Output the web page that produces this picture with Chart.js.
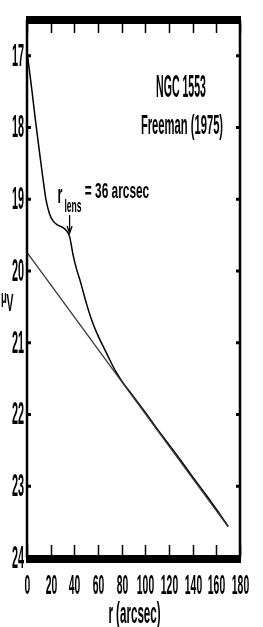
<!DOCTYPE html>
<html>
<head>
<meta charset="utf-8">
<script src="https://cdn.jsdelivr.net/npm/chart.js"></script>
<style>
  html, body { margin: 0; padding: 0; background: #fff; }
  #wrap { width: 263px; height: 627px; }
</style>
</head>
<body>
<div id="wrap"><canvas id="profile"></canvas></div>
<script>
// surface brightness profile of NGC 1553 (Freeman 1975)
const profR  = [0.5, 4, 7, 10, 13, 16, 19, 22, 26, 30, 33, 36, 39, 42, 45, 50, 55, 60, 65, 70, 75, 80, 90, 100, 110, 120, 130, 140, 150, 160, 170];
const profMu = [17.0, 17.46, 17.88, 18.27, 18.65, 19.0, 19.2, 19.3, 19.36, 19.39, 19.43, 19.52, 19.78, 19.98, 20.14, 20.44, 20.7, 20.9, 21.07, 21.24, 21.4, 21.53, 21.75, 21.97, 22.2, 22.42, 22.64, 22.87, 23.09, 23.32, 23.56];

// exponential disk fit
const diskR  = [0, 170];
const diskMu = [19.74, 23.565];

const xTicks = [0, 20, 40, 60, 80, 100, 120, 140, 160, 180];
const yTicks = [17, 18, 19, 20, 21, 22, 23, 24];

const FONT = "'Liberation Sans', Arial, sans-serif";

// narrow text helper (the original lettering is very condensed)
function txt(ctx, s, x, y, size, sx, align, base) {
    ctx.save();
    ctx.font = 'bold ' + size + 'px ' + FONT;
    ctx.textAlign = align || 'center';
    ctx.textBaseline = base || 'middle';
    ctx.translate(x, y);
    ctx.scale(sx, 1);
    ctx.fillText(s, 0, 0);
    ctx.restore();
}

const framePlugin = {
    id: 'frame',
    afterDraw(chart) {
        const ctx = chart.ctx;
        const a = chart.chartArea;
        const xs = chart.scales.x, ys = chart.scales.y;
        ctx.save();
        ctx.fillStyle = '#000';
        ctx.strokeStyle = '#000';

        // thick top/bottom bars, thin sides
        ctx.fillRect(a.left - 1, a.top - 4, a.right - a.left + 2, 8);
        ctx.fillRect(a.left - 1, a.bottom - 3, a.right - a.left + 2, 8);
        ctx.lineWidth = 2.5;
        ctx.beginPath();
        ctx.moveTo(a.left, a.top); ctx.lineTo(a.left, a.bottom);
        ctx.moveTo(a.right, a.top); ctx.lineTo(a.right, a.bottom);
        ctx.stroke();

        // x ticks (inward, top and bottom)
        ctx.lineWidth = 1.5;
        xTicks.forEach(v => {
            const px = Math.round(xs.getPixelForValue(v)) + 0.5;
            ctx.beginPath();
            ctx.moveTo(px, a.bottom - 3); ctx.lineTo(px, a.bottom - 13);
            ctx.moveTo(px, a.top + 4); ctx.lineTo(px, a.top + 13);
            ctx.stroke();
            txt(ctx, String(v), px, a.bottom + 28, 28, 0.37);
        });

        // y ticks (inward, left and right)
        ctx.lineWidth = 3;
        yTicks.forEach(v => {
            const py = ys.getPixelForValue(v);
            if (v < 24) {
                ctx.beginPath();
                ctx.moveTo(a.left, py); ctx.lineTo(a.left + 4, py);
                ctx.moveTo(a.right - 4, py); ctx.lineTo(a.right, py);
                ctx.stroke();
            }
            txt(ctx, String(v), a.left - 3, py + 1, 32, 0.34, 'right');
        });

        // axis titles
        txt(ctx, 'r (arcsec)', (a.left + a.right) / 2 + 1, a.bottom + 57, 29, 0.4);
        txt(ctx, '\u03bc', 4, 298, 19, 0.5);
        txt(ctx, 'V', 10, 305, 23, 0.45);

        // labels in the upper right
        txt(ctx, 'NGC 1553', 181, 88, 32, 0.33);
        txt(ctx, 'Freeman (1975)', 182, 126, 28, 0.4);

        // r_lens annotation with arrow at r = 36
        const ax = xs.getPixelForValue(36);
        txt(ctx, 'r', 60, 203, 25, 0.5, 'center', 'alphabetic');
        txt(ctx, 'lens', 73, 212, 19, 0.45, 'center', 'alphabetic');
        txt(ctx, '= 36 arcsec', 117, 198, 22, 0.54, 'center', 'alphabetic');
        ctx.lineWidth = 1.3;
        const tipY = ys.getPixelForValue(19.47);
        ctx.beginPath();
        ctx.moveTo(ax, 215); ctx.lineTo(ax, tipY);
        ctx.stroke();
        ctx.beginPath();
        ctx.moveTo(ax - 2.5, tipY - 7); ctx.lineTo(ax, tipY); ctx.lineTo(ax + 2.5, tipY - 7);
        ctx.stroke();
        ctx.restore();
    }
};

new Chart(document.getElementById('profile'), {
    type: 'scatter',
    data: {
        datasets: [
            {
                label: 'disk',
                data: diskR.map((r, i) => ({ x: r, y: diskMu[i] })),
                showLine: true,
                borderColor: '#3a3a3a',
                borderWidth: 1.3,
                pointRadius: 0
            },
            {
                label: 'NGC 1553',
                data: profR.map((r, i) => ({ x: r, y: profMu[i] })),
                showLine: true,
                borderColor: '#000',
                borderWidth: 1.5,
                pointRadius: 0,
                cubicInterpolationMode: 'monotone'
            }
        ]
    },
    options: {
        responsive: true,
        maintainAspectRatio: false,
        animation: false,
        layout: { padding: { left: 27, right: 23, top: 20, bottom: 69 } },
        plugins: { legend: { display: false }, tooltip: { enabled: false } },
        scales: {
            x: {
                type: 'linear', min: 0, max: 180,
                grid: { display: false }, border: { display: false },
                ticks: { display: false },
                afterFit: s => { s.height = 0; }
            },
            y: {
                type: 'linear', min: 16.5, max: 24, reverse: true,
                grid: { display: false }, border: { display: false },
                ticks: { display: false },
                afterFit: s => { s.width = 0; }
            }
        }
    },
    plugins: [framePlugin]
});
</script>
</body>
</html>
